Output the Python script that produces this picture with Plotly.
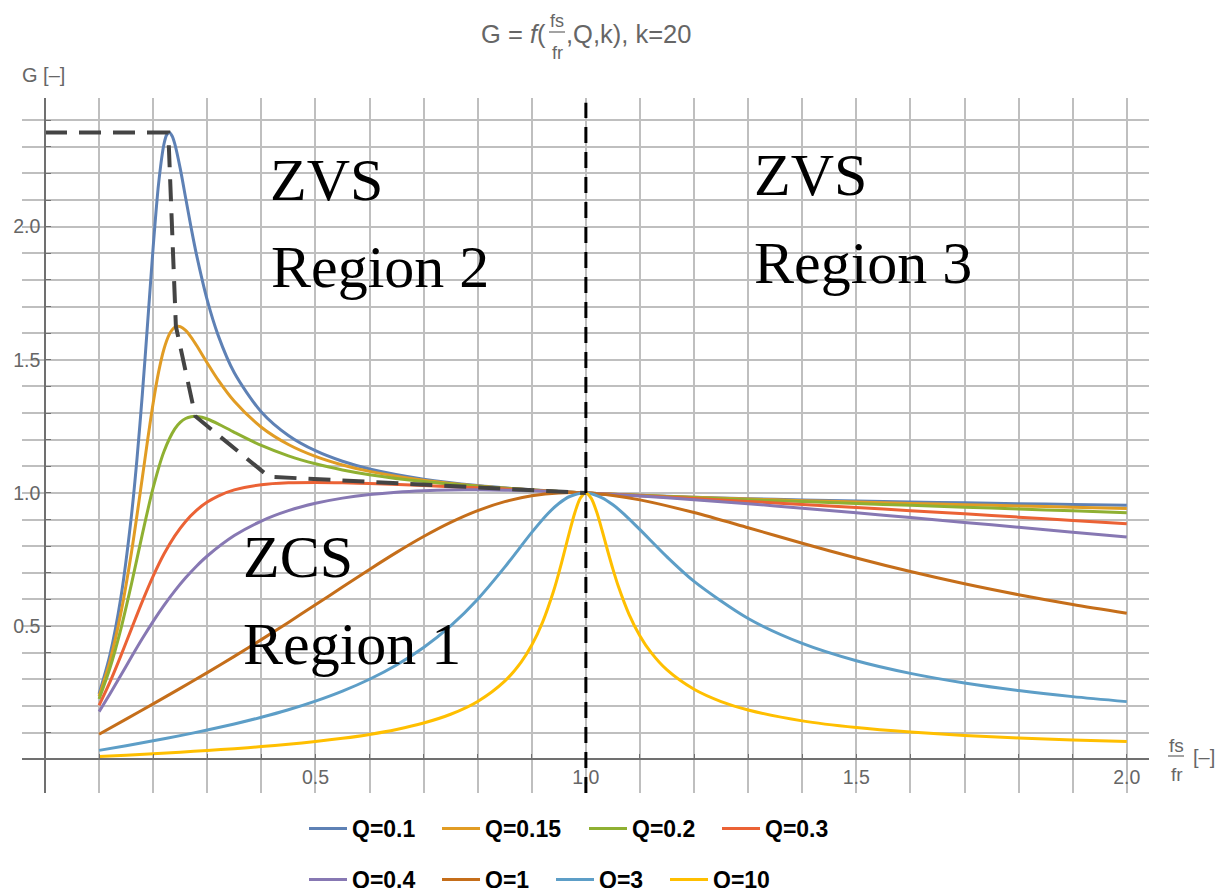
import plotly.graph_objects as go

# ---------------- data: gain curves G(fs/fr) for each quality factor ----------------
fn_q01 = [0.1, 0.12, 0.14, 0.16, 0.17, 0.18, 0.19, 0.2, 0.21, 0.22, 0.225, 0.23, 0.235, 0.24,
          0.25, 0.26, 0.27, 0.28, 0.3, 0.32, 0.35, 0.4, 0.45, 0.5, 0.55, 0.6, 0.7, 0.8, 0.9,
          1.0, 1.1, 1.2, 1.3, 1.4, 1.5, 1.6, 1.7, 1.8, 1.9, 2.0]
g_q01 = [0.2456, 0.3910, 0.6037, 0.9180, 1.1259, 1.3707, 1.6450, 1.9231, 2.1606, 2.3101, 2.3445,
         2.3534, 2.3405, 2.3107, 2.2188, 2.1085, 1.9980, 1.8957, 1.7239, 1.5927, 1.4512, 1.3041,
         1.2159, 1.1586, 1.1189, 1.0901, 1.0518, 1.0278, 1.0116, 1.0, 0.9912, 0.9843, 0.9787,
         0.9739, 0.9698, 0.9661, 0.9628, 0.9597, 0.9567, 0.9539]

fn_q015 = [0.1, 0.12, 0.14, 0.16, 0.18, 0.19, 0.2, 0.21, 0.22, 0.23, 0.235, 0.24, 0.245, 0.25,
           0.26, 0.27, 0.28, 0.3, 0.32, 0.35, 0.4, 0.45, 0.5, 0.55, 0.6, 0.7, 0.8, 0.9, 1.0,
           1.1, 1.2, 1.3, 1.4, 1.5, 1.6, 1.7, 1.8, 1.9, 2.0]
g_q015 = [0.2370, 0.3680, 0.5458, 0.7785, 1.0579, 1.2027, 1.3382, 1.4537, 1.5407, 1.5962, 1.6125,
          1.6221, 1.6259, 1.6246, 1.6102, 1.5854, 1.5548, 1.4882, 1.4248, 1.3443, 1.2469, 1.1821,
          1.1373, 1.1051, 1.0810, 1.0480, 1.0265, 1.0113, 1.0, 0.9910, 0.9835, 0.9770, 0.9712,
          0.9659, 0.9608, 0.9559, 0.9512, 0.9466, 0.9420]

fn_q02 = [0.1, 0.12, 0.14, 0.16, 0.18, 0.2, 0.22, 0.24, 0.25, 0.26, 0.27, 0.28, 0.29, 0.3, 0.32,
          0.35, 0.4, 0.45, 0.5, 0.55, 0.6, 0.7, 0.8, 0.9, 1.0, 1.1, 1.2, 1.3, 1.4, 1.5, 1.6, 1.7,
          1.8, 1.9, 2.0]
g_q02 = [0.2263, 0.3417, 0.4871, 0.6595, 0.8454, 1.0198, 1.1557, 1.2405, 1.2649, 1.2796, 1.2865,
         1.2875, 1.2841, 1.2777, 1.2596, 1.2278, 1.1783, 1.1392, 1.1094, 1.0865, 1.0687, 1.0426,
         1.0246, 1.0109, 1.0, 0.9907, 0.9824, 0.9747, 0.9675, 0.9604, 0.9535, 0.9466, 0.9398,
         0.9329, 0.9259]

fn_q03 = [0.1, 0.12, 0.14, 0.16, 0.18, 0.2, 0.22, 0.24, 0.26, 0.28, 0.3, 0.32, 0.35, 0.4, 0.45,
          0.5, 0.55, 0.6, 0.7, 0.8, 0.9, 1.0, 1.1, 1.2, 1.3, 1.4, 1.5, 1.6, 1.7, 1.8, 1.9, 2.0]
g_q03 = [0.2023, 0.2894, 0.3873, 0.4907, 0.5930, 0.6878, 0.7706, 0.8389, 0.8931, 0.9346, 0.9656,
         0.9884, 1.0114, 1.0310, 1.0383, 1.0397, 1.0384, 1.0356, 1.0279, 1.0191, 1.0098, 1.0,
         0.9898, 0.9792, 0.9683, 0.9570, 0.9454, 0.9335, 0.9215, 0.9092, 0.8968, 0.8843]

fn_q04 = [0.1, 0.12, 0.14, 0.16, 0.18, 0.2, 0.22, 0.24, 0.26, 0.28, 0.3, 0.35, 0.4, 0.45, 0.5,
          0.55, 0.6, 0.65, 0.7, 0.75, 0.8, 0.85, 0.9, 1.0, 1.1, 1.2, 1.3, 1.4, 1.5, 1.6, 1.7,
          1.8, 1.9, 2.0]
g_q04 = [0.1788, 0.2450, 0.3147, 0.3849, 0.4533, 0.5180, 0.5779, 0.6324, 0.6814, 0.7249, 0.7632,
         0.8399, 0.8946, 0.9335, 0.9611, 0.9806, 0.9940, 1.0029, 1.0083, 1.0111, 1.0117, 1.0106,
         1.0082, 1.0, 0.9886, 0.9748, 0.9595, 0.9429, 0.9255, 0.9076, 0.8894, 0.8710, 0.8526,
         0.8344]

fn_q1 = [0.1, 0.15, 0.2, 0.25, 0.3, 0.35, 0.4, 0.45, 0.5, 0.55, 0.6, 0.65, 0.7, 0.75, 0.8,
         0.85, 0.9, 0.95, 1.0, 1.05, 1.1, 1.2, 1.3, 1.4, 1.5, 1.6, 1.7, 1.8, 1.9, 2.0]
g_q1 = [0.0938, 0.1510, 0.2082, 0.2661, 0.3254, 0.3864, 0.4493, 0.5140, 0.5800, 0.6467, 0.7128,
        0.7768, 0.8364, 0.8895, 0.9337, 0.9674, 0.9895, 1.0001, 1.0, 0.9907, 0.9741, 0.9264,
        0.8694, 0.8112, 0.7558, 0.7049, 0.6590, 0.6179, 0.5812, 0.5483]

fn_q3 = [0.1, 0.15, 0.2, 0.25, 0.3, 0.35, 0.4, 0.45, 0.5, 0.55, 0.6, 0.65, 0.7, 0.75, 0.8, 0.85,
         0.9, 0.93, 0.95, 0.97, 1.0, 1.03, 1.05, 1.07, 1.1, 1.15, 1.2, 1.3, 1.4, 1.5, 1.6, 1.7,
         1.8, 1.9, 2.0]
g_q3 = [0.0334, 0.0511, 0.0694, 0.0889, 0.1097, 0.1325, 0.1577, 0.1860, 0.2184, 0.2560, 0.3006,
        0.3542, 0.4197, 0.5009, 0.6012, 0.7215, 0.8519, 0.9228, 0.9605, 0.9867, 1.0, 0.9819,
        0.9556, 0.9215, 0.8621, 0.7598, 0.6680, 0.5288, 0.4351, 0.3700, 0.3225, 0.2864, 0.2581,
        0.2353, 0.2165]

fn_q10 = [0.1, 0.15, 0.2, 0.25, 0.3, 0.35, 0.4, 0.45, 0.5, 0.55, 0.6, 0.65, 0.7, 0.75, 0.8, 0.85,
          0.88, 0.9, 0.92, 0.94, 0.95, 0.96, 0.97, 0.98, 0.99, 1.0, 1.01, 1.02, 1.03, 1.04, 1.05,
          1.06, 1.08, 1.1, 1.12, 1.15, 1.2, 1.25, 1.3, 1.4, 1.5, 1.6, 1.7, 1.8, 1.9, 2.0]
g_q10 = [0.0101, 0.0153, 0.0208, 0.0267, 0.0330, 0.0399, 0.0476, 0.0564, 0.0666, 0.0787, 0.0934,
         0.1119, 0.1361, 0.1691, 0.2172, 0.2934, 0.3641, 0.4290, 0.5151, 0.6299, 0.6997, 0.7765,
         0.8559, 0.9288, 0.9813, 1.0, 0.9798, 0.9282, 0.8590, 0.7849, 0.7139, 0.6495, 0.5433,
         0.4631, 0.4023, 0.3354, 0.2628, 0.2167, 0.1850, 0.1442, 0.1191, 0.1020, 0.0896, 0.0801,
         0.0726, 0.0665]

q_labels = ["Q=0.1", "Q=0.15", "Q=0.2", "Q=0.3", "Q=0.4", "Q=1", "Q=3", "Q=10"]

# peak locus (boundary between the ZCS and ZVS regions)
locus_fn = [0.0, 0.228, 0.242, 0.278, 0.414, 1.0]
locus_g = [2.353, 2.353, 1.626, 1.288, 1.061, 1.0]

# resonance frequency marker
fr_line = 1.0

x_tick_vals = [i / 10 for i in range(0, 21)]
y_tick_vals = [i / 10 for i in range(0, 25)]
x_tick_labels = ["0.5", "1.0", "1.5", "2.0"]
y_tick_labels = ["0.5", "1.0", "1.5", "2.0"]

# ---------------- styling ----------------
colors = ["#5E81B5", "#E19C24", "#8FB032", "#EB6235",
          "#8778B3", "#C56E1A", "#5D9EC7", "#FFBF00"]
GRAY = "#666666"
SANS = "Liberation Sans, Arial, sans-serif"
SERIF = "Liberation Serif, Times New Roman, serif"

W, H = 1218, 888
ML, MR, MT, MB = 22, 69, 98, 95
PW, PH = W - ML - MR, H - MT - MB


def px_x(px):
    return (px - ML) / PW


def px_y(py):
    return (H - MB - py) / PH


X_RANGE = [-0.0425, 2.0411]
Y_RANGE = [-0.1266, 2.483]

# legend entry placement: (left pixel of the line sample, top pixel of the row)
legend_slots = [(310, 815), (443, 815), (590, 815), (723, 815),
                (310, 866), (443, 866), (557, 866), (671, 866)]
legend_ids = ["legend"] + [f"legend{i}" for i in range(2, 9)]

fig = go.Figure()

series = [(fn_q01, g_q01), (fn_q015, g_q015), (fn_q02, g_q02), (fn_q03, g_q03),
          (fn_q04, g_q04), (fn_q1, g_q1), (fn_q3, g_q3), (fn_q10, g_q10)]
for (xs, ys), name, col, lid in zip(series, q_labels, colors, legend_ids):
    fig.add_trace(go.Scatter(
        x=xs, y=ys, mode="lines", name=name,
        line=dict(color=col, width=3, shape="spline", smoothing=0.8),
        legend=lid,
    ))

fig.add_trace(go.Scatter(
    x=locus_fn, y=locus_g, mode="lines", showlegend=False, hoverinfo="skip",
    line=dict(color="#444444", width=4, dash="22px,12px"),
))

fig.add_shape(type="line", xref="x", yref="paper", x0=fr_line, x1=fr_line, y0=0, y1=0.993,
              line=dict(color="black", width=3, dash="16px,9px"))


def tick_text(vals, labels):
    out = []
    for v in vals:
        s = f"{v:.1f}"
        out.append(s if s in labels else "")
    return out


axis_common = dict(
    showgrid=True, gridcolor="#bfbfbf", gridwidth=1.6, zeroline=False,
    showline=True, linecolor="#707070", linewidth=1.6,
    ticks="inside", ticklen=5, tickwidth=1.2, tickcolor="#707070",
    tickfont=dict(family=SANS, size=19.5, color=GRAY),
    anchor="free", fixedrange=True,
)
fig.update_xaxes(range=X_RANGE, tickvals=x_tick_vals,
                 ticktext=tick_text(x_tick_vals, x_tick_labels),
                 position=px_y(759.3), **axis_common)
fig.update_yaxes(range=Y_RANGE, tickvals=y_tick_vals,
                 ticktext=tick_text(y_tick_vals, y_tick_labels),
                 position=px_x(45), **axis_common)

ann = []
# region labels
for text, x, y in [("ZVS", 0.4115, 2.175), ("Region 2", 0.4135, 1.850),
                   ("ZVS", 1.307, 2.194), ("Region 3", 1.307, 1.862),
                   ("ZCS", 0.3625, 0.761), ("Region 1", 0.3625, 0.4315)]:
    ann.append(dict(text=text, x=x, y=y, xref="x", yref="y", xanchor="left",
                    yanchor="middle", showarrow=False,
                    font=dict(family=SERIF, size=60, color="black")))

paper = dict(xref="paper", yref="paper", showarrow=False)
# title:  G = f(fs/fr, Q, k), k=20
ann.append(dict(text="G = <i>f</i>(", x=px_x(548), y=px_y(33.5), xanchor="right",
                yanchor="middle", font=dict(family=SANS, size=25.5, color=GRAY), **paper))
ann.append(dict(text="fs", x=px_x(557), y=px_y(21), xanchor="center", yanchor="middle",
                font=dict(family=SANS, size=18, color=GRAY), **paper))
ann.append(dict(text="fr", x=px_x(557), y=px_y(53.5), xanchor="center", yanchor="middle",
                font=dict(family=SANS, size=18, color=GRAY), **paper))
ann.append(dict(text=",Q,k), k=20", x=px_x(564), y=px_y(33.5), xanchor="left",
                yanchor="middle", font=dict(family=SANS, size=25.5, color=GRAY), **paper))
# axis labels
ann.append(dict(text="G [–]", x=px_x(20), y=px_y(75.5), xanchor="left", yanchor="middle",
                font=dict(family=SANS, size=20, color=GRAY), **paper))
ann.append(dict(text="fs", x=px_x(1176), y=px_y(745.5), xanchor="center", yanchor="middle",
                font=dict(family=SANS, size=19, color=GRAY), **paper))
ann.append(dict(text="fr", x=px_x(1176.5), y=px_y(774), xanchor="center", yanchor="middle",
                font=dict(family=SANS, size=19, color=GRAY), **paper))
ann.append(dict(text="[–]", x=px_x(1191), y=px_y(757), xanchor="left", yanchor="middle",
                font=dict(family=SANS, size=20, color=GRAY), **paper))

for s in [
    dict(type="line", xref="paper", yref="paper", x0=px_x(549), x1=px_x(565),
         y0=px_y(32), y1=px_y(32), line=dict(color=GRAY, width=1.2)),
    dict(type="line", xref="paper", yref="paper", x0=px_x(1168), x1=px_x(1184),
         y0=px_y(756), y1=px_y(756), line=dict(color=GRAY, width=1.2)),
]:
    fig.add_shape(**s)

legend_style = dict(orientation="h", xanchor="left", yanchor="top",
                    font=dict(family=SANS, size=23, color="black", weight="bold"),
                    bgcolor="rgba(0,0,0,0)", borderwidth=0, itemclick=False,
                    itemdoubleclick=False, itemwidth=38)
legends = {}
for lid, (lx, ly) in zip(legend_ids, legend_slots):
    legends[lid] = dict(x=px_x(lx - 6), y=px_y(ly - 8), **legend_style)

fig.update_layout(
    width=W, height=H,
    margin=dict(l=ML, r=MR, t=MT, b=MB, autoexpand=False),
    paper_bgcolor="white", plot_bgcolor="white",
    annotations=ann,
    showlegend=True,
    **legends,
)

fig.write_html("out.html")
